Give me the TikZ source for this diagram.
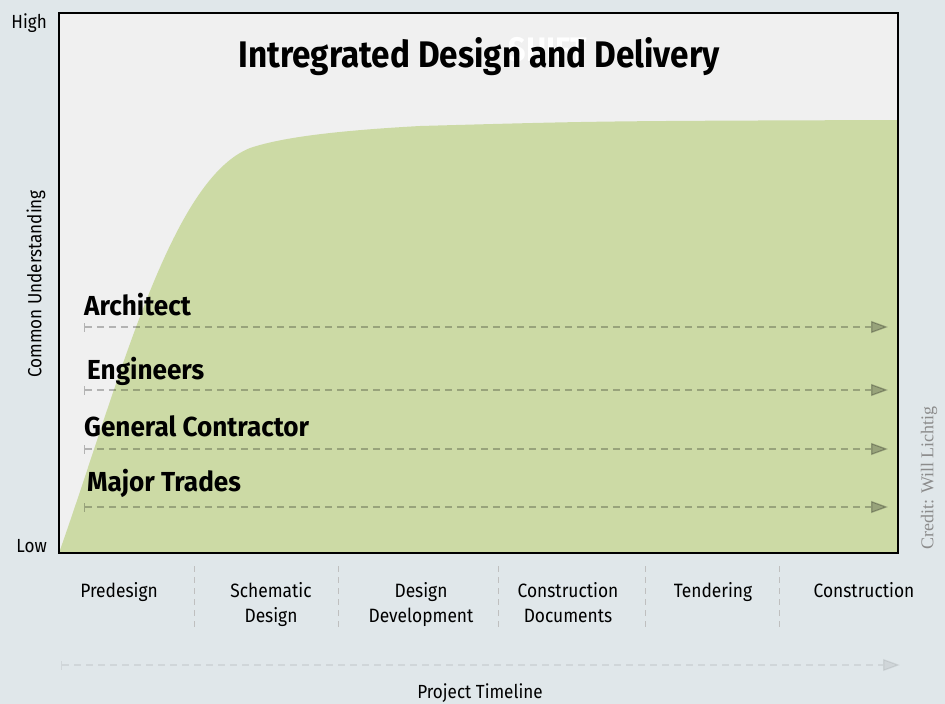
\documentclass[tikz,border=0pt]{standalone}
\usepackage{fontspec}
\setmainfont{Fira Sans}[FakeStretch=0.9]
\newfontfamily\rolefont{Fira Sans}[FakeStretch=0.95]
\newfontfamily\creditfont{Liberation Serif}
\usetikzlibrary{arrows.meta,positioning}
\definecolor{pagebg}{HTML}{E0E7EA}
\definecolor{plotbg}{HTML}{F0F0F0}
\definecolor{consensus}{HTML}{CCDAA5}

\begin{document}
\begin{tikzpicture}[x=1pt,y=-1pt,
    role/.style={font=\rolefont\bfseries\fontsize{27.5}{30}\selectfont, anchor=base west, inner sep=0pt},
    phase/.style={font=\fontsize{19.3}{25}\selectfont, align=center, anchor=base, inner sep=0pt},
    axislabel/.style={font=\fontsize{19}{22}\selectfont, inner sep=0pt},
    track/.style={draw=black, opacity=.25, line width=1.3pt, dash pattern=on 7pt off 5pt,
        {Bar[width=9pt,line width=1.3pt]}-{Triangle[length=17pt,width=12pt]}},
    divider/.style={draw=black!25, line width=.8pt, dash pattern=on 6pt off 5pt}]
    \fill[pagebg] (0,0) rectangle (945,704);
    \fill[plotbg] (59,13) rectangle (898,553);
    % shared understanding over time
    \fill[consensus] (59,553) .. controls (120,380) and (170,180) .. (250,148)
        .. controls (280,138) and (330,131) .. (420,126)
        .. controls (600,121) .. (898,120) -- (898,553) -- cycle;
    \draw[line width=2pt] (59,13) rectangle (898,553);

    \node[font=\bfseries\fontsize{34}{40}\selectfont, text=white, inner sep=0pt] (ghost) at (548,50) {SHIFT};
    \node[font=\bfseries\fontsize{37}{44}\selectfont, anchor=base, inner sep=0pt] (title) at (479,67) {Intregrated Design and Delivery};

    \node[axislabel, anchor=base east] (high) at (47,28) {High};
    \node[axislabel, anchor=base east] (low) at (47,552) {Low};
    \node[axislabel, rotate=90] (yaxis) at (36,284) {Common Understanding};

    % team members
    \node[role] (arch) at (84,315) {Architect};
    \coordinate (arch-s) at (84,327);
    \coordinate (arch-e) at (888,327);
    \node[role] (eng) at (87,379) {Engineers};
    \coordinate (eng-s) at (84,390);
    \coordinate (eng-e) at (888,390);
    \node[role] (gc) at (84,436) {General Contractor};
    \coordinate (gc-s) at (84,449);
    \coordinate (gc-e) at (888,449);
    \node[role] (trades) at (87,491) {Major Trades};
    \coordinate (trades-s) at (84,507);
    \coordinate (trades-e) at (888,507);
    \foreach \who in {arch,eng,gc,trades}
        \draw[track] (\who-s) -- (\who-e);

    % phases
    \node[phase] (pre) at (119,597) {Predesign};
    \node[phase] (sd) at (271,622) {Schematic\\Design};
    \node[phase] (dd) at (421,622) {Design\\Development};
    \node[phase] (cd) at (568,622) {Construction\\Documents};
    \node[phase] (tend) at (713,597) {Tendering};
    \node[phase] (con) at (864,597) {Construction};
    \foreach \x in {194,338,498,645,779}
        \draw[divider] (\x,566) -- (\x,627);

    \coordinate (tl-s) at (61,665);
    \coordinate (tl-e) at (900,665);
    \draw[track, opacity=.07] (tl-s) -- (tl-e);
    \node[axislabel, anchor=base] (timeline) at (480,698) {Project Timeline};

    \node[font=\creditfont\fontsize{18}{20}\selectfont, text=black!45, rotate=90, inner sep=0pt] (credit) at (929,478) {Credit: Will Lichtig};
\end{tikzpicture}
\end{document}
